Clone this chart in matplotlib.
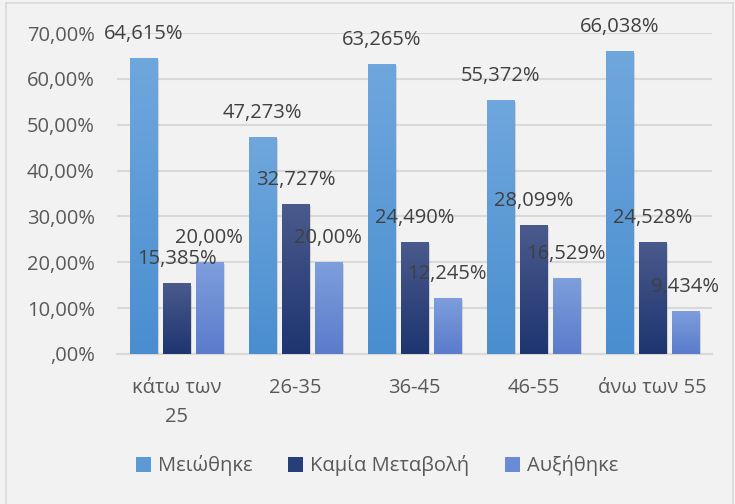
import numpy as np
import matplotlib
matplotlib.use("Agg")
import matplotlib.pyplot as plt
from matplotlib.patches import Rectangle, Patch
from matplotlib.colors import LinearSegmentedColormap
import matplotlib.patheffects as pe

plt.rcParams['font.family'] = ['Open Sans', 'DejaVu Sans']

# data
groups = ['κάτω των\n25', '26-35', '36-45', '46-55', 'άνω των 55']
series = ['Μειώθηκε', 'Καμία Μεταβολή', 'Αυξήθηκε']
meiothike = [64.615, 47.273, 63.265, 55.372, 66.038]
kamia = [15.385, 32.727, 24.490, 28.099, 24.528]
afksithike = [20.00, 20.00, 12.245, 16.529, 9.434]
labels = [
    ['64,615%', '47,273%', '63,265%', '55,372%', '66,038%'],
    ['15,385%', '32,727%', '24,490%', '28,099%', '24,528%'],
    ['20,00%', '20,00%', '12,245%', '16,529%', '9,434%'],
]
yticks = [0, 10, 20, 30, 40, 50, 60, 70]
yticklabels = [',00%', '10,00%', '20,00%', '30,00%', '40,00%', '50,00%', '60,00%', '70,00%']

# (bottom, top) gradient colours per series
grads = [('#4A8ED0', '#6FA7DD'), ('#1E3570', '#4A5A8C'), ('#5A7CCB', '#7E9EDC')]
colors = ['#5B9BD5', '#263F78', '#6A8CD6']
bg = '#F2F2F2'
fs = 14.5

fig = plt.figure(figsize=(7.35, 5.04), dpi=100, facecolor=bg)
# outer frame
fig.add_artist(Rectangle((6 / 735, -10 / 504), 727 / 735, 511 / 504, transform=fig.transFigure,
                         fill=False, edgecolor='#D9D9D9', linewidth=1.2))

ax = fig.add_axes([117 / 735, 1 - 354 / 504, 595 / 735, 321 / 504])
ax.set_facecolor(bg)

x = np.arange(len(groups))
w = 0.227
step = 0.275
shadow = [pe.SimplePatchShadow(offset=(1.5, -1.5), shadow_rgbFace='#888888', alpha=0.3), pe.Normal()]
for i, vals in enumerate([meiothike, kamia, afksithike]):
    bars = ax.bar(x + (i - 1) * step, vals, w, color=colors[i], label=series[i], zorder=3)
    cmap = LinearSegmentedColormap.from_list('g%d' % i, grads[i])
    for b, lab in zip(bars, labels[i]):
        b.set_path_effects(shadow)
        x0, h = b.get_x(), b.get_height()
        im = ax.imshow(np.linspace(0, 1, 64).reshape(-1, 1), cmap=cmap, origin='lower',
                       extent=(x0, x0 + w, 0, h), aspect='auto', zorder=4, interpolation='bilinear')
        im.set_clip_path(b)
        ax.annotate(lab, (x0 + w / 2, h),
                    xytext=(0, 24), textcoords='offset pixels', ha='center', va='center',
                    fontsize=fs, color='#404040', zorder=6, annotation_clip=False)

ax.set_xlim(-0.5, len(groups) - 0.5)
ax.set_ylim(0, 70)
ax.set_yticks(yticks)
ax.set_yticklabels(yticklabels)
ax.set_xticks(x)
ax.set_xticklabels(groups, linespacing=1.6)
ax.tick_params(axis='y', length=0, pad=16, labelsize=fs, labelcolor='#595959')
ax.tick_params(axis='x', length=0, pad=17, labelsize=fs, labelcolor='#595959')
ax.grid(axis='y', color='#D9D9D9', linewidth=1.5, zorder=0)
for s in ['top', 'right', 'left']:
    ax.spines[s].set_visible(False)
ax.spines['bottom'].set_color('#D9D9D9')
ax.spines['bottom'].set_linewidth(1.5)

handles = [Patch(facecolor=c) for c in colors]
fig.legend(handles, series, loc='center', bbox_to_anchor=(377 / 735, 1 - 466 / 504), ncol=3,
           frameon=False, fontsize=fs, labelcolor='#595959', handlelength=0.75, handleheight=0.75,
           handletextpad=0.35, columnspacing=1.75)

fig.savefig('out.png', dpi=100, facecolor=bg)
